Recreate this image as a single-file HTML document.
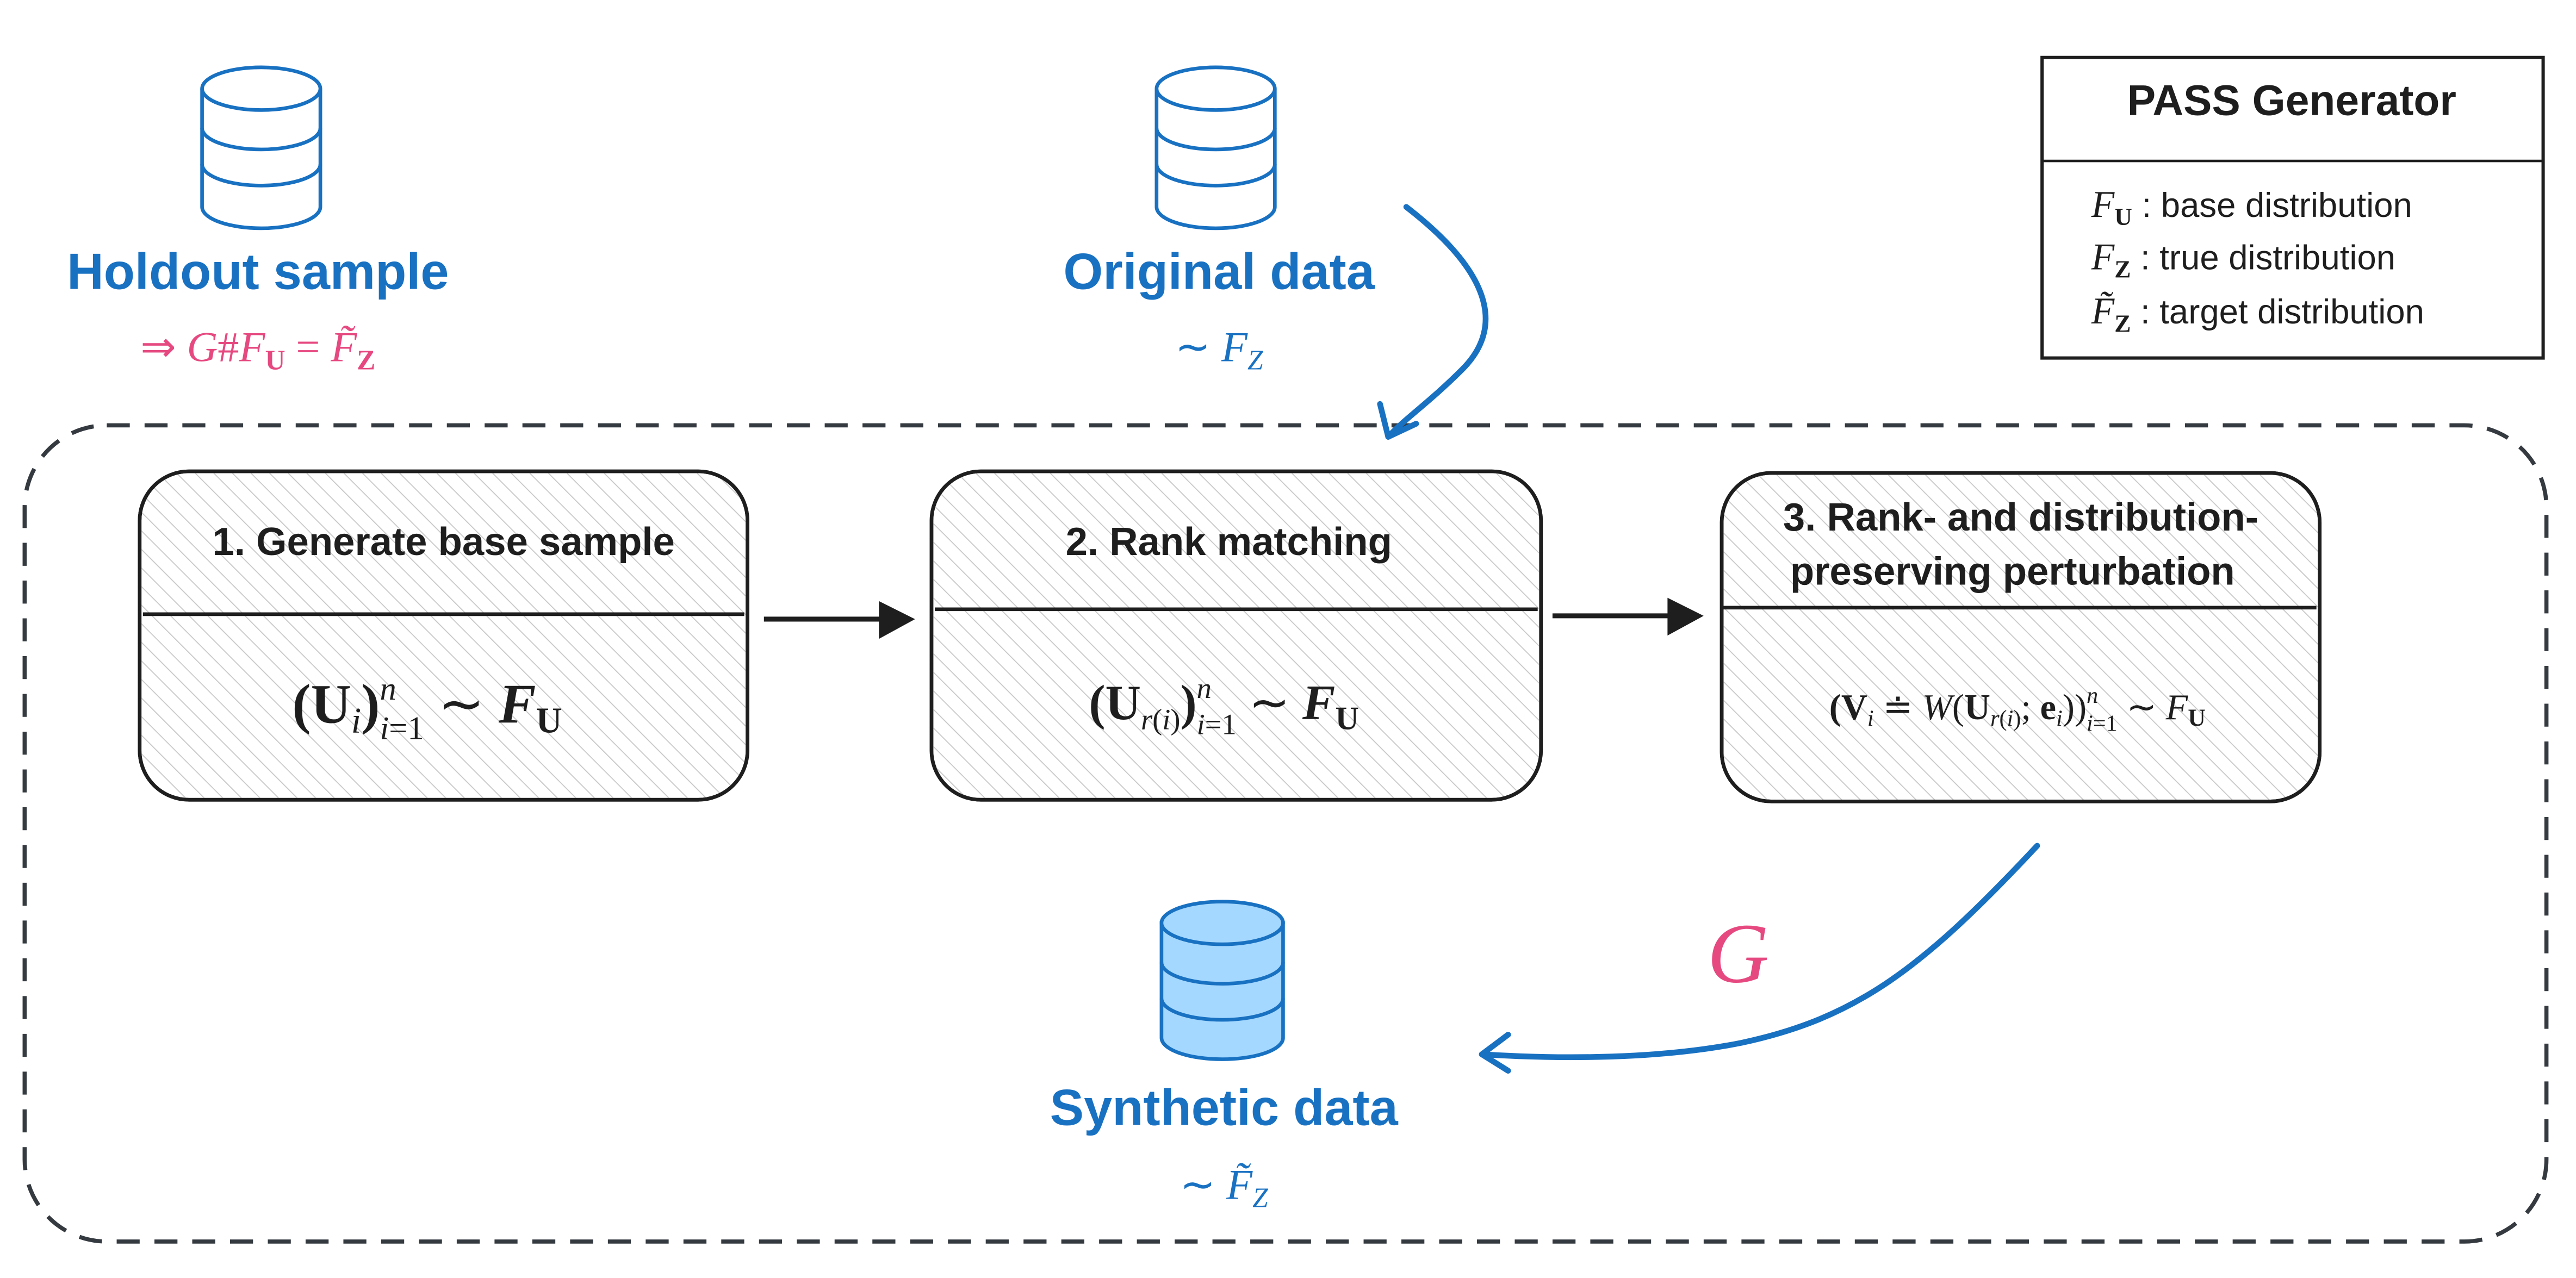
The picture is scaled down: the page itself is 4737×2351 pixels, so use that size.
<!DOCTYPE html>
<html><head><meta charset="utf-8"><style>
html,body{margin:0;padding:0;background:#fff;}
svg{display:block;}
.h{font-family:"Liberation Sans",sans-serif;}
.m{font-family:"Liberation Serif",serif;}
</style></head><body>
<svg width="4737" height="2351" viewBox="0 0 1568 778.2" xmlns="http://www.w3.org/2000/svg">
<defs>
<pattern id="hat" width="8" height="8" patternUnits="userSpaceOnUse" patternTransform="rotate(-45)">
<line x1="0" y1="0" x2="0" y2="8" stroke="#c8c8c8" stroke-width="1.2"/>
</pattern>
</defs>
<rect width="1568" height="778.2" fill="#fff"/>

<g fill="none" stroke="#1971c2" stroke-width="2.2">
<g transform="translate(159,0)">
<ellipse cx="0" cy="54" rx="36" ry="13"/>
<path d="M-36,54 V126 A36,13 0 0 0 36,126 V54"/>
<path d="M-36,78 A36,13 0 0 0 36,78"/>
<path d="M-36,100 A36,13 0 0 0 36,100"/>
</g>
<g transform="translate(740,0)">
<ellipse cx="0" cy="54" rx="36" ry="13"/>
<path d="M-36,54 V126 A36,13 0 0 0 36,126 V54"/>
<path d="M-36,78 A36,13 0 0 0 36,78"/>
<path d="M-36,100 A36,13 0 0 0 36,100"/>
</g>
<g transform="translate(744,0)">
<path d="M-37,562 V632 A37,13 0 0 0 37,632 V562 Z" fill="#a5d8ff"/>
<ellipse cx="0" cy="562" rx="37" ry="13" fill="#a5d8ff"/>
<path d="M-37,586 A37,13 0 0 0 37,586"/>
<path d="M-37,608 A37,13 0 0 0 37,608"/>
</g>
</g>

<text x="157" y="176" class="h" font-size="31" fill="#1971c2" text-anchor="middle" font-weight="bold">Holdout sample</text>
<text x="157" y="220" class="m" font-size="26" fill="#e64980" text-anchor="middle">⇒ <tspan font-style="italic">G</tspan>#<tspan font-style="italic">F</tspan><tspan font-size="17" dy="5" font-weight="bold">U</tspan><tspan dy="-5"> = </tspan><tspan font-style="italic">F̃</tspan><tspan font-size="17" dy="5" font-weight="bold">Z</tspan></text>

<text x="742" y="176" class="h" font-size="31" fill="#1971c2" text-anchor="middle" font-weight="bold">Original data</text>
<text x="742" y="220" class="m" font-size="26" fill="#1971c2" text-anchor="middle">∼ <tspan font-style="italic">F</tspan><tspan font-size="17" dy="5" font-style="italic">Z</tspan></text>

<text x="745" y="685" class="h" font-size="31" fill="#1971c2" text-anchor="middle" font-weight="bold">Synthetic data</text>
<text x="745" y="730" class="m" font-size="26" fill="#1971c2" text-anchor="middle">∼ <tspan font-style="italic">F̃</tspan><tspan font-size="17" dy="5" font-style="italic">Z</tspan></text>

<rect x="1243" y="35" width="305" height="183" fill="#fff" stroke="#1e1e1e" stroke-width="2"/>
<line x1="1243" y1="98" x2="1548" y2="98" stroke="#1e1e1e" stroke-width="1.5"/>
<text x="1395" y="70" class="h" font-size="26" fill="#1e1e1e" text-anchor="middle" font-weight="bold">PASS Generator</text>
<g class="h" font-size="21" fill="#1e1e1e">
<text x="1273" y="132"><tspan class="m" font-style="italic" font-size="23">F</tspan><tspan class="m" font-size="15" font-weight="bold" dy="5">U</tspan><tspan dy="-5"> : base distribution</tspan></text>
<text x="1273" y="164"><tspan class="m" font-style="italic" font-size="23">F</tspan><tspan class="m" font-size="15" font-weight="bold" dy="5">Z</tspan><tspan dy="-5"> : true distribution</tspan></text>
<text x="1273" y="197"><tspan class="m" font-style="italic" font-size="23">F̃</tspan><tspan class="m" font-size="15" font-weight="bold" dy="5">Z</tspan><tspan dy="-5"> : target distribution</tspan></text>
</g>

<rect x="15" y="259" width="1535" height="497" rx="50" fill="none" stroke="#343a40" stroke-width="2.5" stroke-dasharray="14 9"/>

<g stroke="#1e1e1e" stroke-width="2.2">
<rect x="85" y="287" width="370" height="200" rx="30" fill="#fff"/>
<rect x="85" y="287" width="370" height="200" rx="30" fill="url(#hat)"/>
<line x1="87" y1="374" x2="453" y2="374"/>
<rect x="567" y="287" width="371" height="200" rx="30" fill="#fff"/>
<rect x="567" y="287" width="371" height="200" rx="30" fill="url(#hat)"/>
<line x1="569" y1="371" x2="936" y2="371"/>
<rect x="1048" y="288" width="364" height="200" rx="30" fill="#fff"/>
<rect x="1048" y="288" width="364" height="200" rx="30" fill="url(#hat)"/>
<line x1="1048" y1="370" x2="1410" y2="370"/>
</g>
<g class="h" font-size="24" fill="#1e1e1e" text-anchor="middle" font-weight="bold">
<text x="270" y="338">1. Generate base sample</text>
<text x="748" y="338">2. Rank matching</text>
<text x="1230" y="323">3. Rank- and distribution-</text>
<text x="1225" y="356">preserving perturbation</text>
</g>
<g class="m" fill="#1e1e1e" text-anchor="middle">
<text x="260" y="440" font-size="34"><tspan font-weight="bold">(U</tspan><tspan font-size="22" font-style="italic" dy="6">i</tspan><tspan font-weight="bold" dy="-6">)</tspan><tspan font-size="20" font-style="italic" dy="-14">n</tspan><tspan font-size="20" dx="-10" dy="24"><tspan font-style="italic">i</tspan>=1</tspan><tspan dy="-10"> ∼ </tspan><tspan font-style="italic" font-weight="bold">F</tspan><tspan font-size="22" font-weight="bold" dy="6">U</tspan></text>
<text x="745" y="438" font-size="30"><tspan font-weight="bold">(U</tspan><tspan font-size="18" font-style="italic" dy="6">r</tspan><tspan font-size="18" dy="0">(<tspan font-style="italic">i</tspan>)</tspan><tspan font-weight="bold" dy="-6">)</tspan><tspan font-size="18" font-style="italic" dy="-13">n</tspan><tspan font-size="18" dx="-9" dy="22"><tspan font-style="italic">i</tspan>=1</tspan><tspan dy="-9"> ∼ </tspan><tspan font-style="italic" font-weight="bold">F</tspan><tspan font-size="20" font-weight="bold" dy="6">U</tspan></text>
<text x="1228" y="438" font-size="22"><tspan font-weight="bold">(V</tspan><tspan font-size="14" font-style="italic" dy="4">i</tspan><tspan dy="-4"> ≐ </tspan><tspan font-style="italic">W</tspan>(<tspan font-weight="bold">U</tspan><tspan font-size="14" dy="4"><tspan font-style="italic">r</tspan>(<tspan font-style="italic">i</tspan>)</tspan><tspan dy="-4">; </tspan><tspan font-weight="bold">e</tspan><tspan font-size="14" font-style="italic" dy="4">i</tspan><tspan dy="-4">))</tspan><tspan font-size="14" font-style="italic" dy="-10">n</tspan><tspan font-size="14" dx="-7" dy="17"><tspan font-style="italic">i</tspan>=1</tspan><tspan dy="-7"> ∼ </tspan><tspan font-style="italic">F</tspan><tspan font-size="15" font-weight="bold" dy="4">U</tspan></text>
</g>

<g stroke="#1e1e1e" stroke-width="3" fill="none">
<line x1="465" y1="377" x2="540" y2="377"/>
<line x1="945" y1="375" x2="1020" y2="375"/>
</g>
<path d="M535,366 L557,377 L535,389 Z" fill="#1e1e1e"/>
<path d="M1015,364 L1037,375 L1015,387 Z" fill="#1e1e1e"/>

<g stroke="#1971c2" stroke-width="3.5" fill="none" stroke-linecap="round" stroke-linejoin="round">
<path d="M856,126 C900,160 920,195 890,225 C870,245 855,255 845,266"/>
<path d="M840,246 L845,266 L862,258"/>
<path d="M1240,515 C1170,590 1130,620 1060,635 C1010,645 950,645 902,642"/>
<path d="M918,630 L902,642 L918,652"/>
</g>
<text x="1058" y="598" class="m" font-size="52" font-style="italic" fill="#e64980" text-anchor="middle">G</text>
</svg>
</body></html>
